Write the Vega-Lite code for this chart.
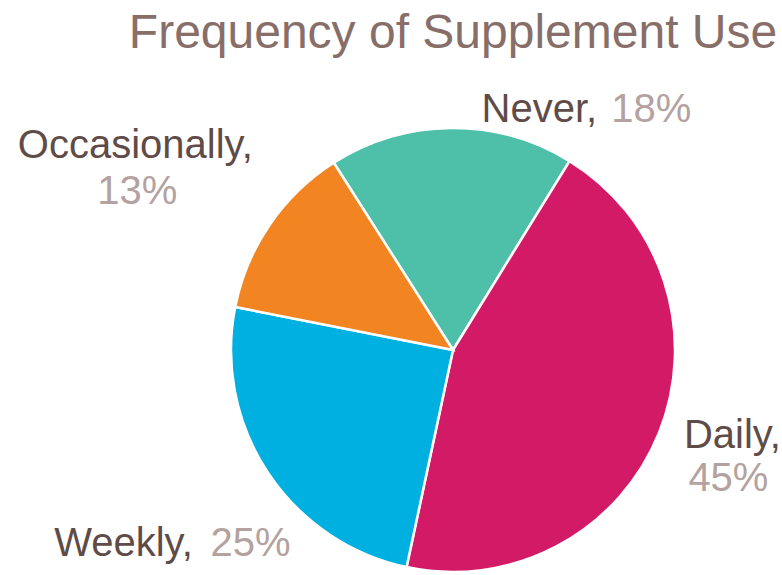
{
  "$schema": "https://vega.github.io/schema/vega-lite/v6.json",
  "width": 444,
  "height": 444,
  "autosize": {"type": "none"},
  "padding": {"left": 231, "top": 128, "right": 107, "bottom": 3},
  "background": "white",
  "config": {"view": {"stroke": null}, "text": {"font": "Liberation Sans"}},
  "title": {"text": "Frequency of Supplement Use", "fontSize": 48, "font": "Liberation Sans", "fontWeight": "normal", "color": "#876E69", "anchor": "middle", "offset": -63},
  "data": {"values": [
    {"category": "Never", "value": 18, "order": 1, "name": "Never,", "pct": "18%"},
    {"category": "Daily", "value": 45, "order": 2, "name": "Daily,", "pct": "45%"},
    {"category": "Weekly", "value": 25, "order": 3, "name": "Weekly,", "pct": "25%"},
    {"category": "Occasionally", "value": 13, "order": 4, "name": "Occasionally,", "pct": "13%"}
  ]},
  "encoding": {
    "theta": {"field": "value", "type": "quantitative", "stack": true, "scale": {"range": [-0.567, 5.7162]}},
    "order": {"field": "order", "type": "quantitative"}
  },
  "layer": [
    {"mark": {"type": "arc", "stroke": "white", "strokeWidth": 2.5},
     "encoding": {"color": {"field": "category", "type": "nominal", "legend": null,
       "scale": {"domain": ["Never", "Daily", "Weekly", "Occasionally"], "range": ["#4EBFA9", "#D31A66", "#00B0E0", "#F28521"]}}}},
    {"mark": {"type": "text", "radius": 240, "dx": 88, "dy": 0, "fontSize": 40, "color": "#5F4B47", "align": "center", "baseline": "middle"},
     "encoding": {"text": {"condition": {"test": "datum.category == 'Never'", "field": "name"}, "value": ""}}},
    {"mark": {"type": "text", "radius": 240, "dx": 200, "dy": 0, "fontSize": 40, "color": "#B3A2A0", "align": "center", "baseline": "middle"},
     "encoding": {"text": {"condition": {"test": "datum.category == 'Never'", "field": "pct"}, "value": ""}}},
    {"mark": {"type": "text", "radius": 300, "dx": 1, "dy": -26, "fontSize": 40, "color": "#5F4B47", "align": "center", "baseline": "middle"},
     "encoding": {"text": {"condition": {"test": "datum.category == 'Daily'", "field": "name"}, "value": ""}}},
    {"mark": {"type": "text", "radius": 300, "dx": -3, "dy": 17, "fontSize": 40, "color": "#B3A2A0", "align": "center", "baseline": "middle"},
     "encoding": {"text": {"condition": {"test": "datum.category == 'Daily'", "field": "pct"}, "value": ""}}},
    {"mark": {"type": "text", "radius": 300, "dx": -79, "dy": 29, "fontSize": 40, "color": "#5F4B47", "align": "center", "baseline": "middle"},
     "encoding": {"text": {"condition": {"test": "datum.category == 'Weekly'", "field": "name"}, "value": ""}}},
    {"mark": {"type": "text", "radius": 300, "dx": 48, "dy": 29, "fontSize": 40, "color": "#B3A2A0", "align": "center", "baseline": "middle"},
     "encoding": {"text": {"condition": {"test": "datum.category == 'Weekly'", "field": "pct"}, "value": ""}}},
    {"mark": {"type": "text", "radius": 300, "dx": -70, "dy": -35, "fontSize": 40, "color": "#5F4B47", "align": "center", "baseline": "middle"},
     "encoding": {"text": {"condition": {"test": "datum.category == 'Occasionally'", "field": "name"}, "value": ""}}},
    {"mark": {"type": "text", "radius": 300, "dx": -68, "dy": 11, "fontSize": 40, "color": "#B3A2A0", "align": "center", "baseline": "middle"},
     "encoding": {"text": {"condition": {"test": "datum.category == 'Occasionally'", "field": "pct"}, "value": ""}}}
  ]
}
